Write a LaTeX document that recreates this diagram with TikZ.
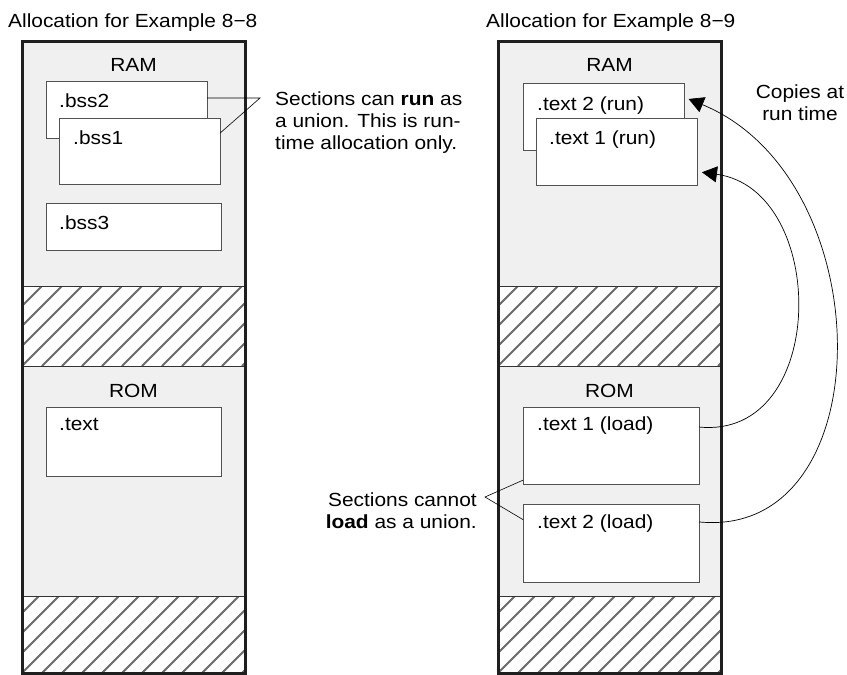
\documentclass[tikz,border=0pt]{standalone}
\usepackage{fontspec}
\setmainfont{Liberation Sans}[FakeStretch=1.1]
\usetikzlibrary{positioning,calc,arrows.meta}

\begin{document}
\begin{tikzpicture}[
    x=1pt, y=-1pt,
    font=\fontsize{19}{22}\selectfont,
    memfill/.style={fill=black!6, inner sep=0pt, outer sep=0pt, anchor=north west,
        minimum width=223pt, minimum height=632pt},
    memborder/.style={draw=black!88, line width=3pt},
    section/.style={draw=black!68, line width=0.9pt, fill=white, anchor=north west,
        inner sep=0pt, outer sep=0pt},
    seclabel/.style={anchor=base west, inner sep=0pt},
    hatchline/.style={draw=black!58, line width=2pt},
    callout/.style={draw=black, line width=0.6pt},
    copies/.style={draw=black, line width=0.7pt, -{Triangle[length=15pt,width=16pt]}, shorten >=5pt}
]
    \useasboundingbox (0,0) rectangle (847,675);

    % memory columns
    \node [memfill] (colL) at (22,41) {};
    \node [memfill] (colR) at (498,41) {};

    % unused (hatched) areas
    \foreach \bx/\by/\bh in {22/286/80, 22/596/77, 498/286/80, 498/596/77} {
        \begin{scope}
            \clip (\bx,\by) rectangle ++(223,\bh);
            \fill [white] (\bx,\by) rectangle ++(223,\bh);
            \foreach \k in {-5,...,11}
                \draw [hatchline] (\bx+\k*20,\by+\bh) -- ++(\bh,-\bh);
        \end{scope}
        \draw [black!80, line width=0.8pt] (\bx,\by) -- ++(223,0) (\bx,\by+\bh) -- ++(223,0);
    }
    \draw [memborder] (colL.north west) rectangle (colL.south east);
    \draw [memborder] (colR.north west) rectangle (colR.south east);

    \node [seclabel] (titleL) at (8,27) {Allocation for Example 8−8};
    \node [seclabel] (titleR) at (486,27) {Allocation for Example 8−9};
    \node [anchor=base] (ramL) at (133.5,71.5) {RAM};
    \node [anchor=base] (romL) at (133.5,397) {ROM};
    \node [anchor=base] (ramR) at (609.5,71.5) {RAM};
    \node [anchor=base] (romR) at (609.5,397) {ROM};

    % Example 8-8
    \node [section, minimum width=161pt, minimum height=57pt] (bsstwo) at (46,81) {};
    \node [section, minimum width=161pt, minimum height=66pt] (bssone) at (59,118) {};
    \node [section, minimum width=175pt, minimum height=47pt] (bssthree) at (46,203) {};
    \node [section, minimum width=175pt, minimum height=69pt] (textL) at (46,407) {};
    \node [seclabel] at ($(bsstwo.north west)+(13,26)$) {.bss2};
    \node [seclabel] at ($(bssone.north west)+(14,26)$) {.bss1};
    \node [seclabel] at ($(bssthree.north west)+(13,26)$) {.bss3};
    \node [seclabel] at ($(textL.north west)+(13,23)$) {.text};

    % Example 8-9
    \node [section, minimum width=161pt, minimum height=67pt] (runtwo) at (523,83) {};
    \node [section, minimum width=161pt, minimum height=67pt] (runone) at (536,118) {};
    \node [section, minimum width=176pt, minimum height=77pt] (loadone) at (523,407) {};
    \node [section, minimum width=176pt, minimum height=78pt] (loadtwo) at (523,504) {};
    \node [seclabel] at ($(runtwo.north west)+(14,27)$) {.text 2 (run)};
    \node [seclabel] at ($(runone.north west)+(13,26)$) {.text 1 (run)};
    \node [seclabel] at ($(loadone.north west)+(14,23)$) {.text 1 (load)};
    \node [seclabel] at ($(loadtwo.north west)+(14,24)$) {.text 2 (load)};

    % callouts
    \node [anchor=west, align=left, inner sep=0pt] (runnote) at (275,122.5)
        {Sections can \textbf{run} as\\a union. This is run-\\time allocation only.};
    \coordinate (runtip) at (260,98);
    \draw [callout] (bsstwo.east |- runtip) -- (runtip)
        -- ($(bssone.north east)!0.23!(bssone.south east)$);

    \node [anchor=east, align=right, inner sep=0pt] (loadnote) at (477,511)
        {Sections cannot\\\textbf{load} as a union.};
    \coordinate (loadtip) at (485,497);
    \draw [callout] ($(loadone.south west)!0.05!(loadone.north west)$) -- (loadtip)
        -- ($(loadtwo.north west)!0.2!(loadtwo.south west)$);

    \node [align=center, inner sep=0pt] (copynote) at (800,103) {Copies at\\run time};
    \draw [copies] ($(loadone.north east)!0.26!(loadone.south east)$)
        .. controls +(130,13) and +(132,18) .. ($(runone.north east)!0.8!(runone.south east)$);
    \draw [copies] ($(loadtwo.north east)!0.23!(loadtwo.south east)$)
        .. controls +(184,18) and +(199,82) .. ($(runtwo.north east)!0.21!(runtwo.south east)$);
\end{tikzpicture}
\end{document}
